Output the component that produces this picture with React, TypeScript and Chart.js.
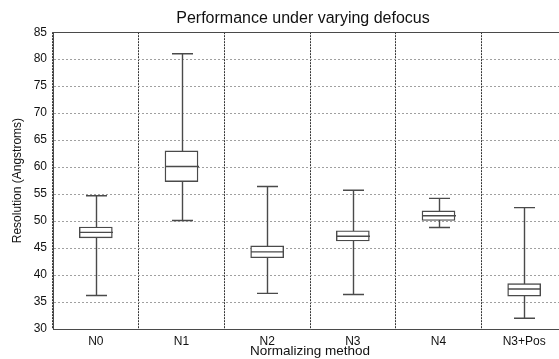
import { useEffect, useRef } from 'react';
import { Chart, registerables } from 'chart.js';

Chart.register(...registerables);

const categories = ['N0', 'N1', 'N2', 'N3', 'N4', 'N3+Pos'];
const whiskerLow = [36.2, 50.1, 36.6, 36.4, 48.8, 32.0];
const quartile1 = [46.9, 57.3, 43.2, 46.3, 50.1, 36.1];
const medians = [47.9, 60.1, 44.3, 47.2, 51.0, 37.4];
const quartile3 = [48.9, 63.0, 45.4, 48.2, 51.9, 38.4];
const whiskerHigh = [54.7, 81.0, 56.4, 55.7, 54.2, 52.5];

const yMin = 30;
const yMax = 85;
const yStep = 5;

const titleText = 'Performance under varying defocus';
const xTitle = 'Normalizing method';
const yTitle = 'Resolution (Angstroms)';

const FONT = "'Liberation Sans', Arial, Helvetica, sans-serif";
const LINE = '#4a4a4a';
const LW = 1.4;
const BOX_W = 33;
const CAP_W = 21;

const boxPlugin = {
  id: 'boxWhiskers',
  beforeDatasetsDraw(chart: any) {
    const { ctx, scales } = chart;
    const x = scales.x;
    const y = scales.y;
    ctx.save();
    ctx.strokeStyle = LINE;
    ctx.lineWidth = LW;
    ctx.setLineDash([]);
    categories.forEach((_, i) => {
      const cx = Math.round(x.getPixelForValue(i)) + 0.5;
      const lo = y.getPixelForValue(whiskerLow[i]);
      const hi = y.getPixelForValue(whiskerHigh[i]);
      ctx.beginPath();
      ctx.moveTo(cx, lo);
      ctx.lineTo(cx, hi);
      ctx.moveTo(cx - CAP_W / 2, lo);
      ctx.lineTo(cx + CAP_W / 2, lo);
      ctx.moveTo(cx - CAP_W / 2, hi);
      ctx.lineTo(cx + CAP_W / 2, hi);
      ctx.stroke();
    });
    ctx.restore();
  },
  afterDatasetsDraw(chart: any) {
    const { ctx, scales } = chart;
    const x = scales.x;
    const y = scales.y;
    ctx.save();
    ctx.strokeStyle = LINE;
    ctx.lineWidth = LW;
    categories.forEach((_, i) => {
      const cx = Math.round(x.getPixelForValue(i)) + 0.5;
      const my = y.getPixelForValue(medians[i]);
      ctx.beginPath();
      ctx.moveTo(cx - BOX_W / 2, my);
      ctx.lineTo(cx + BOX_W / 2, my);
      ctx.stroke();
    });
    ctx.restore();
  },
  afterDraw(chart: any) {
    const { ctx, chartArea } = chart;
    ctx.save();
    ctx.strokeStyle = LINE;
    ctx.lineWidth = 1;
    ctx.beginPath();
    ctx.moveTo(chartArea.left, Math.round(chartArea.top) + 0.5);
    ctx.lineTo(chartArea.right, Math.round(chartArea.top) + 0.5);
    ctx.stroke();
    ctx.restore();
  },
};

export default function App() {
  const ref = useRef<HTMLCanvasElement | null>(null);

  useEffect(() => {
    if (!ref.current) return;
    const chart = new Chart(ref.current, {
      type: 'bar',
      data: {
        labels: categories,
        datasets: [
          {
            data: categories.map((_, i) => [quartile1[i], quartile3[i]]) as any,
            backgroundColor: '#ffffff',
            borderColor: LINE,
            borderWidth: LW,
            borderSkipped: false,
            barThickness: BOX_W,
            xAxisID: 'x',
            yAxisID: 'y',
          },
        ],
      },
      options: {
        animation: false,
        responsive: false,
        maintainAspectRatio: false,
        devicePixelRatio: 1,
        layout: { padding: 0 },
        plugins: {
          legend: { display: false },
          tooltip: { enabled: false },
          title: {
            display: true,
            text: titleText,
            color: '#111',
            font: { family: FONT, size: 16, weight: 'normal' },
            padding: { top: 9, bottom: 4 },
          },
        },
        scales: {
          x: {
            afterFit(scale: any) {
              scale.height = 30;
            },
            grid: {
              color: '#333333',
              lineWidth: 1,
              drawTicks: false,
              offset: true,
            },
            border: { display: true, color: LINE, width: 1, dash: [2, 1] },
            ticks: {
              color: '#111',
              font: { family: FONT, size: 12 },
              padding: 5,
            },
            title: {
              display: true,
              text: xTitle,
              color: '#111',
              font: { family: FONT, size: 13.5 },
              padding: { top: 0, bottom: 0 },
            },
          },
          y: {
            min: yMin,
            max: yMax,
            afterFit(scale: any) {
              scale.width = 53;
            },
            grid: {
              color: '#a0a0a0',
              lineWidth: 1,
              drawTicks: false,
            },
            border: { display: true, color: LINE, width: 1, dash: [2, 2] },
            ticks: {
              stepSize: yStep,
              color: '#111',
              font: { family: FONT, size: 12 },
              padding: 6,
            },
            title: {
              display: true,
              text: yTitle,
              color: '#111',
              font: { family: FONT, size: 12 },
              padding: { top: 10, bottom: 0 },
            },
          },
          yRightSpace: {
            type: 'linear',
            position: 'right',
            display: true,
            afterFit(scale: any) {
              scale.width = 39;
            },
            grid: { display: false },
            border: { display: false },
            ticks: { display: false },
          },
        },
      },
      plugins: [boxPlugin],
    });
    return () => chart.destroy();
  }, []);

  return (
    <div
      style={{
        position: 'fixed',
        left: 0,
        top: 0,
        width: 559,
        height: 359,
        overflow: 'hidden',
        background: '#fff',
      }}
    >
      <canvas ref={ref} width={606} height={359} style={{ display: 'block', width: 606, height: 359 }} />
    </div>
  );
}
